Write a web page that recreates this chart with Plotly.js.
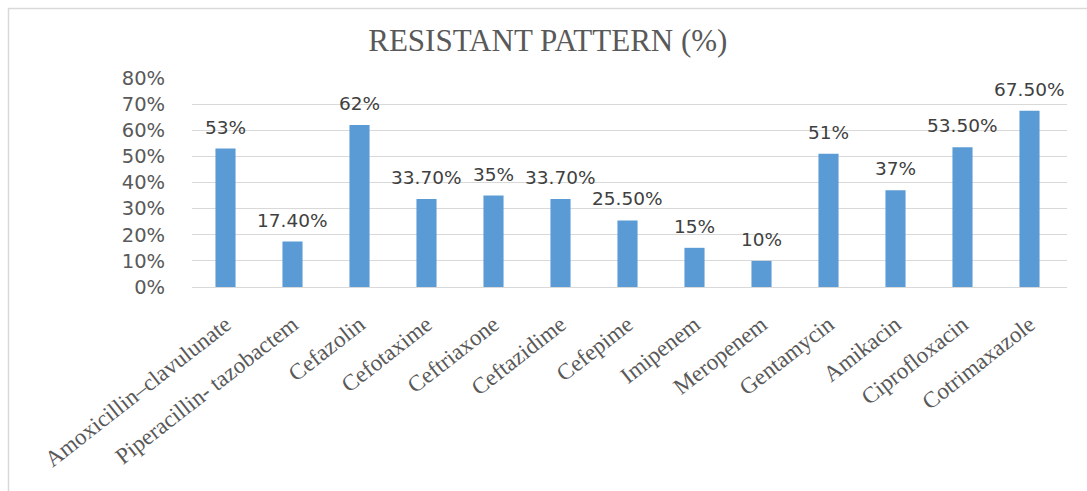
<!DOCTYPE html>
<html>
<head>
<meta charset="utf-8">
<script src="https://cdn.plot.ly/plotly-3.0.1.min.js"></script>
<style>
html,body{margin:0;padding:0;background:#fff;}
#chart{width:1087px;height:491px;}
</style>
</head>
<body>
<div id="chart"></div>
<script>
var categories = ["Amoxicillin–clavulunate", "Piperacillin- tazobactem", "Cefazolin", "Cefotaxime", "Ceftriaxone", "Ceftazidime", "Cefepime", "Imipenem", "Meropenem", "Gentamycin", "Amikacin", "Ciprofloxacin", "Cotrimaxazole"];
var resistant = [53, 17.4, 62, 33.7, 35, 33.7, 25.5, 15, 10, 51, 37, 53.5, 67.5];
var valueLabels = ["53%", "17.40%", "62%", "33.70%", "35%", "33.70%", "25.50%", "15%", "10%", "51%", "37%", "53.50%", "67.50%"];
var yTicks = [0, 10, 20, 30, 40, 50, 60, 70, 80];

var W = 1087, H = 491;
var mL = 192, mR = 20, mT = 78, mB = 204;
var pw = W - mL - mR, ph = H - mT - mB;
function px2paperX(x){ return (x - mL) / pw; }
function px2paperY(y){ return (H - mB - y) / ph; }

var annotations = categories.map(function(c, i){
  return {
    x: c, y: resistant[i], xref: 'x', yref: 'y',
    text: valueLabels[i], showarrow: false,
    yanchor: 'bottom', xanchor: 'center', yshift: 9,
    font: {family: 'DejaVu Sans', size: 18.5, color: '#404040'}
  };
});

var trace = {
  type: 'bar',
  x: categories,
  y: resistant,
  marker: {color: '#5B9BD5'},
  hoverinfo: 'skip'
};

var layout = {
  width: W, height: H,
  margin: {l: mL, r: mR, t: mT, b: mB, pad: 0},
  paper_bgcolor: '#ffffff',
  plot_bgcolor: '#ffffff',
  showlegend: false,
  bargap: 0.7,
  title: {
    text: 'RESISTANT PATTERN (%)',
    font: {family: 'Liberation Serif', size: 31, color: '#595959'},
    xref: 'container', x: 0.504, xanchor: 'center',
    yref: 'container', y: 1 - 40/H, yanchor: 'middle'
  },
  xaxis: {
    type: 'category',
    tickangle: -38,
    tickfont: {family: 'Liberation Serif', size: 23, color: '#595959'},
    showgrid: false,
    showline: true, linecolor: '#d9d9d9', linewidth: 1,
    ticks: 'outside', ticklen: 14, tickcolor: 'rgba(0,0,0,0)',
    zeroline: false,
    fixedrange: true
  },
  yaxis: {
    range: [0, 80],
    tickvals: yTicks,
    ticktext: yTicks.map(function(v){ return v + '%'; }),
    tickfont: {family: 'DejaVu Sans', size: 19.5, color: '#595959'},
    showgrid: true, gridcolor: '#d9d9d9', gridwidth: 1,
    zeroline: false, showline: false,
    ticks: 'outside', ticklen: 22, tickcolor: 'rgba(0,0,0,0)',
    fixedrange: true
  },
  annotations: annotations,
  shapes: [
    {type: 'line', xref: 'paper', yref: 'paper',
     x0: px2paperX(8), x1: px2paperX(W + 5), y0: px2paperY(8.5), y1: px2paperY(8.5),
     line: {color: '#d9d9d9', width: 1.5}},
    {type: 'line', xref: 'paper', yref: 'paper',
     x0: px2paperX(8.5), x1: px2paperX(8.5), y0: px2paperY(8), y1: px2paperY(H + 5),
     line: {color: '#d9d9d9', width: 1.5}}
  ]
};

Plotly.newPlot('chart', [trace], layout, {displayModeBar: false, staticPlot: true});
</script>
</body>
</html>
